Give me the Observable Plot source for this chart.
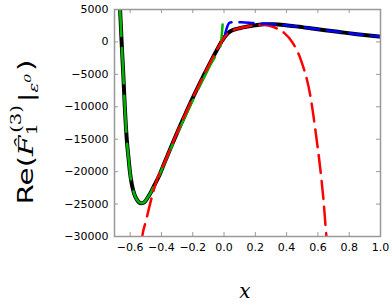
<!DOCTYPE html>
<html>
<head>
<meta charset="utf-8">
<script src="https://cdn.jsdelivr.net/npm/d3@7"></script>
<script src="https://cdn.jsdelivr.net/npm/@observablehq/plot@0.6"></script>
<style>
html,body{margin:0;padding:0;background:#fff;}
</style>
</head>
<body>
<div id="chart"></div>
<script>
// Tick values
const xTicks = [-0.6, -0.4, -0.2, 0.0, 0.2, 0.4, 0.6, 0.8, 1.0];
const yTicks = [-30000, -25000, -20000, -15000, -10000, -5000, 0, 5000];

// Full result (black solid)
const blackX = [-0.668, -0.664, -0.655, -0.644, -0.634, -0.621, -0.610, -0.600, -0.588, -0.574, -0.555, -0.531, -0.512, -0.493, -0.470, -0.446, -0.420, -0.380, -0.330, -0.280, -0.230, -0.180, -0.130, -0.080, -0.030, -0.015, 0.000, 0.015, 0.030, 0.050, 0.075, 0.100, 0.150, 0.200, 0.260, 0.320, 0.406, 0.500, 0.576, 0.660, 0.747, 0.850, 1.000];
const blackY = [6500, 4850, 220, -4920, -10070, -15200, -18000, -20340, -22100, -23420, -24400, -24870, -24750, -24190, -23300, -22140, -20900, -18600, -15690, -12900, -10210, -7640, -5170, -2800, -550, 100, 650, 1100, 1450, 1750, 1970, 2120, 2370, 2580, 2740, 2720, 2530, 2280, 2020, 1760, 1500, 1200, 820];

// Expansion near x = 0 from the left (green)
const greenX = [-0.668, -0.664, -0.655, -0.644, -0.634, -0.621, -0.610, -0.600, -0.588, -0.574, -0.555, -0.531, -0.512, -0.493, -0.470, -0.446, -0.420, -0.380, -0.330, -0.280, -0.230, -0.180, -0.130, -0.080, -0.045, -0.030, -0.020, -0.014, -0.009];
const greenY = [6500, 4850, 220, -4920, -10070, -15200, -18000, -20340, -22100, -23420, -24400, -24870, -24750, -24190, -23300, -22140, -20900, -18650, -15850, -13150, -10550, -8050, -5600, -3250, -1800, -1100, -300, 1200, 2690];

// Expansion (red dashed)
const redX = [-0.527, -0.520, -0.500, -0.475, -0.450, -0.425, -0.404, -0.380, -0.330, -0.280, -0.230, -0.180, -0.130, -0.080, -0.030, -0.015, 0.000, 0.015, 0.030, 0.050, 0.075, 0.100, 0.150, 0.200, 0.240, 0.280, 0.342, 0.384, 0.438, 0.491, 0.555, 0.587, 0.614, 0.636, 0.655, 0.662];
const redY = [-30800, -29600, -27700, -25200, -22900, -21000, -19800, -18600, -15690, -12900, -10210, -7640, -5170, -2800, -550, 100, 650, 1100, 1450, 1750, 1970, 2120, 2370, 2570, 2680, 2580, 2020, 1400, -100, -2760, -8770, -14170, -19320, -24450, -30100, -31500];

// Expansion near x = 0 from the right (blue dashed)
const blueX = [0.007, 0.020, 0.035, 0.060, 0.110, 0.190, 0.260, 0.320, 0.406, 0.500, 0.576, 0.660, 0.747, 0.850, 1.000];
const blueY = [1250, 2300, 2950, 3060, 3030, 2900, 2790, 2720, 2530, 2280, 2020, 1760, 1500, 1200, 820];

const toPts = (xs, ys) => xs.map((x, i) => ({x, y: ys[i]}));
const black = toPts(blackX, blackY);
const green = toPts(greenX, greenY);
const red = toPts(redX, redY);
const blue = toPts(blueX, blueY);

const W = 392, H = 305, mL = 114, mR = 12, mT = 9, mB = 69;
const innerW = W - mL - mR, innerH = H - mT - mB;
const tickLen = 4;
const gray = "#999";

const fmtY = d3.format("d");
const fmtX = d3.format(".1f");

const chart = Plot.plot({
  width: W, height: H,
  marginLeft: mL, marginRight: mR, marginTop: mT, marginBottom: mB,
  style: {fontFamily: "'DejaVu Sans', sans-serif", fontSize: "11px", background: "#fff", color: "#000"},
  x: {domain: [-0.7, 1.0]},
  y: {domain: [-30000, 5000]},
  marks: [
    Plot.line(black, {x: "x", y: "y", stroke: "black", strokeWidth: 4, curve: "monotone-x", clip: true}),
    Plot.line(green, {x: "x", y: "y", stroke: "#00b300", strokeWidth: 2.5, strokeDasharray: "36,12", curve: "monotone-x", clip: true}),
    Plot.line(red, {x: "x", y: "y", stroke: "red", strokeWidth: 2.5, strokeDasharray: "18,8", curve: "monotone-x", clip: true}),
    Plot.line(blue, {x: "x", y: "y", stroke: "blue", strokeWidth: 2.5, strokeDasharray: "14,8", curve: "monotone-x", clip: true}),
    // inward ticks
    Plot.tickX(xTicks, {x: d => d, insetTop: innerH - tickLen, stroke: gray, strokeWidth: 1}),
    Plot.tickX(xTicks, {x: d => d, insetBottom: innerH - tickLen, stroke: gray, strokeWidth: 1}),
    Plot.tickY(yTicks, {y: d => d, insetRight: innerW - tickLen, stroke: gray, strokeWidth: 1}),
    Plot.tickY(yTicks, {y: d => d, insetLeft: innerW - tickLen, stroke: gray, strokeWidth: 1}),
    Plot.frame({stroke: gray, strokeWidth: 1.5}),
    Plot.axisX({ticks: xTicks, tickSize: 0, tickPadding: 7, tickFormat: fmtX, label: null}),
    Plot.axisY({ticks: yTicks, tickSize: 0, tickPadding: 6, tickFormat: fmtY, label: null})
  ]
});

const svg = d3.select(chart);
// x label
svg.append("text")
  .attr("x", mL + innerW / 2 - 2)
  .attr("y", 298)
  .attr("text-anchor", "middle")
  .attr("font-family", "'DejaVu Serif', serif")
  .attr("font-style", "italic")
  .attr("font-size", 20)
  .text("x");

// y label
const serif = "'DejaVu Serif', serif";
const yl = svg.append("text")
  .attr("transform", "translate(33,132) rotate(-90) scale(1.4,1)")
  .attr("text-anchor", "middle")
  .attr("font-family", "'DejaVu Sans', sans-serif")
  .attr("font-size", 21)
  .attr("fill", "#000");
yl.append("tspan").text("Re(");
yl.append("tspan").attr("font-family", serif).attr("font-style", "italic").text("F\u0302");
yl.append("tspan").attr("font-family", serif).attr("font-size", 14).attr("dy", 4).text("1");
yl.append("tspan").attr("font-family", serif).attr("font-size", 14).attr("dx", -7).attr("dy", -16).text("(3)");
yl.append("tspan").attr("font-family", serif).attr("dx", 2).attr("dy", 12).text("|");
yl.append("tspan").attr("font-family", serif).attr("font-style", "italic").attr("font-size", 13).attr("dy", 5).text("\u03B5");
yl.append("tspan").attr("font-family", serif).attr("font-style", "italic").attr("font-size", 10).attr("dy", -7).text("0");
yl.append("tspan").attr("dx", 2).attr("dy", 2).text(")");

document.getElementById("chart").appendChild(chart);
</script>
</body>
</html>
